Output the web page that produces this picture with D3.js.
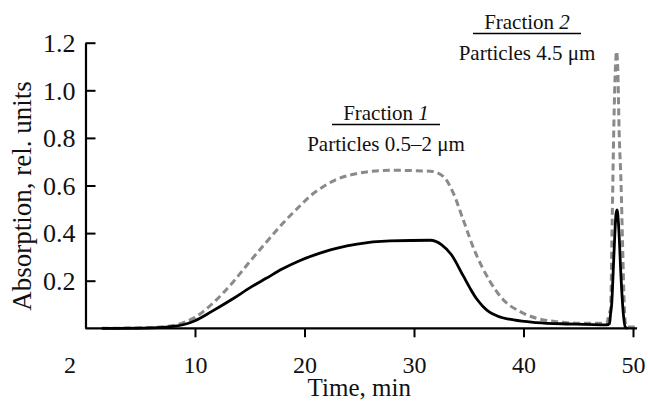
<!DOCTYPE html>
<html>
<head>
<meta charset="utf-8">
<script src="https://cdnjs.cloudflare.com/ajax/libs/d3/7.8.5/d3.min.js"></script>
<style>
  body { margin: 0; background: #fff; }
  text { font-family: "Liberation Serif", "DejaVu Serif", serif; fill: #111; }
</style>
</head>
<body>
<script>
// time (min) and absorption values
var timeDashed = [1.5, 6, 8, 9, 10, 11.5, 13.5, 15, 16.55, 18, 19.6, 20.5, 21.7, 22.8, 24, 25.5, 27.8, 31.5, 32.7, 33.6, 34.5, 35.5, 36.9, 38.15, 39.7, 41.2, 43, 45.2, 47.6, 47.8, 47.95, 48.1, 48.25, 48.4, 48.5, 48.6, 48.75, 48.9, 49.05, 49.2, 49.35, 49.6, 50.3];
var absDashed  = [0, 0.003, 0.012, 0.025, 0.046, 0.1, 0.196, 0.28, 0.364, 0.44, 0.515, 0.555, 0.595, 0.623, 0.642, 0.656, 0.664, 0.66, 0.637, 0.567, 0.455, 0.33, 0.2, 0.12, 0.07, 0.042, 0.028, 0.021, 0.021, 0.06, 0.08, 0.45, 0.85, 1.1, 1.163, 1.1, 0.8, 0.62, 0.35, 0.1, 0.01, 0.005, 0.005];

var timeSolid = [1.5, 6, 8, 9, 10, 11.5, 13.5, 15, 16.5, 18, 19.6, 21.7, 23, 24.8, 27.8, 31.5, 32.5, 33.4, 34.5, 35.1, 35.7, 36.3, 36.9, 37.6, 39.1, 41.2, 44.2, 47.6, 47.85, 47.95, 48.05, 48.25, 48.45, 48.55, 48.7, 48.9, 49.1, 49.3, 49.5];
var absSolid  = [0, 0.002, 0.008, 0.016, 0.032, 0.07, 0.125, 0.17, 0.21, 0.25, 0.285, 0.32, 0.337, 0.354, 0.367, 0.37, 0.352, 0.31, 0.22, 0.17, 0.125, 0.092, 0.068, 0.052, 0.035, 0.024, 0.018, 0.014, 0.02, 0.06, 0.1, 0.3, 0.48, 0.497, 0.42, 0.22, 0.07, 0.005, 0];

var xTicks = [10, 20, 30, 40, 50];
var yTicks = [0.2, 0.4, 0.6, 0.8, 1.0, 1.2];

var margin = {top: 42.7, right: 15, bottom: 75.7, left: 85.5}
  , width = 648 - margin.left - margin.right
  , height = 404 - margin.top - margin.bottom;

var xScale = d3.scaleLinear().domain([0, 50]).range([0, 547.5]);
var yScale = d3.scaleLinear().domain([0, 1.2]).range([height, 0]);

var dataset = function(t, v) {
	return t.map(function(d, i) { return {x: d, y: v[i]}; });
}

var line = d3.line()
	.x(function(d) { return xScale(d.x); })
	.y(function(d) { return yScale(d.y); })
	.curve(d3.curveMonotoneX);

var svg = d3.select("body").append("svg")
	.attr("width", 648)
	.attr("height", 404)
	.append("g")
		.attr("transform", "translate(" + margin.left + "," + margin.top + ")");

svg.append("path")
	.attr("fill", "none")
	.attr("stroke", "#8a8a8a")
	.attr("stroke-width", 3)
	.attr("stroke-dasharray", "7,4")
	.attr("d", line(dataset(timeDashed, absDashed)));

svg.append("path")
	.attr("fill", "none")
	.attr("stroke", "#000")
	.attr("stroke-width", 2.8)
	.attr("d", line(dataset(timeSolid, absSolid)));

// x axis
var xAxis = svg.append("g")
	.attr("transform", "translate(0," + height + ")")
	.call(d3.axisBottom(xScale).tickValues(xTicks).tickSize(9).tickSizeOuter(0).tickPadding(14));
xAxis.select(".domain").attr("stroke-width", 2.2).attr("d", "M0,0H" + (xScale(50) + 4));
xAxis.selectAll(".tick line").attr("stroke-width", 2);
xAxis.selectAll(".tick text")
	.style("font-size", "24px")
	.attr("dy", null)
	.attr("y", 45);

xAxis.append("text")
	.attr("x", xScale(-1.42))
	.attr("y", 45)
	.attr("text-anchor", "middle")
	.style("font-size", "24px")
	.text("2");

// y axis, ticks pointing inside
var yAxis = svg.append("g")
	.call(d3.axisLeft(yScale).tickValues(yTicks).tickFormat(d3.format(".1f")).tickSize(-10).tickSizeOuter(0).tickPadding(10));
yAxis.select(".domain").attr("stroke-width", 2.2);
yAxis.selectAll(".tick line").attr("stroke-width", 2);
yAxis.selectAll(".tick text")
	.style("font-size", "26px")
	.attr("x", -10)
	.attr("dy", "0.34em");

svg.selectAll(".domain, .tick line").attr("stroke", "#000");

svg.append("text")
	.attr("transform", "translate(" + (xScale(25)) + "," + (height + 68) + ")")
	.style("text-anchor", "middle")
	.style("font-size", "25px")
	.text("Time, min");

svg.append("text")
	.attr("transform", "translate(" + (31 - margin.left) + "," + (196 - margin.top) + ") rotate(-90)")
	.style("text-anchor", "middle")
	.style("font-size", "27px")
	.text("Absorption, rel. units");

// fraction labels
var notes = [
	{num: "1", sub: "Particles 0.5\u20132 \u03bcm", cx: 386, y: 120, w: 108},
	{num: "2", sub: "Particles 4.5 \u03bcm", cx: 527, y: 29, w: 108}
];
notes.forEach(function(n) {
	var t = svg.append("text")
		.attr("x", n.cx - margin.left)
		.attr("y", n.y - margin.top)
		.attr("text-anchor", "middle")
		.style("font-size", "21px");
	t.append("tspan").text("Fraction ");
	t.append("tspan").style("font-style", "italic").text(n.num);
	svg.append("line")
		.attr("x1", n.cx - n.w / 2 - margin.left)
		.attr("x2", n.cx + n.w / 2 - margin.left)
		.attr("y1", n.y + 4.5 - margin.top)
		.attr("y2", n.y + 4.5 - margin.top)
		.attr("stroke", "#000")
		.attr("stroke-width", 1.6);
	svg.append("text")
		.attr("x", n.cx - margin.left)
		.attr("y", n.y + 31 - margin.top)
		.attr("text-anchor", "middle")
		.style("font-size", "21px")
		.text(n.sub);
});
</script>
</body>
</html>
